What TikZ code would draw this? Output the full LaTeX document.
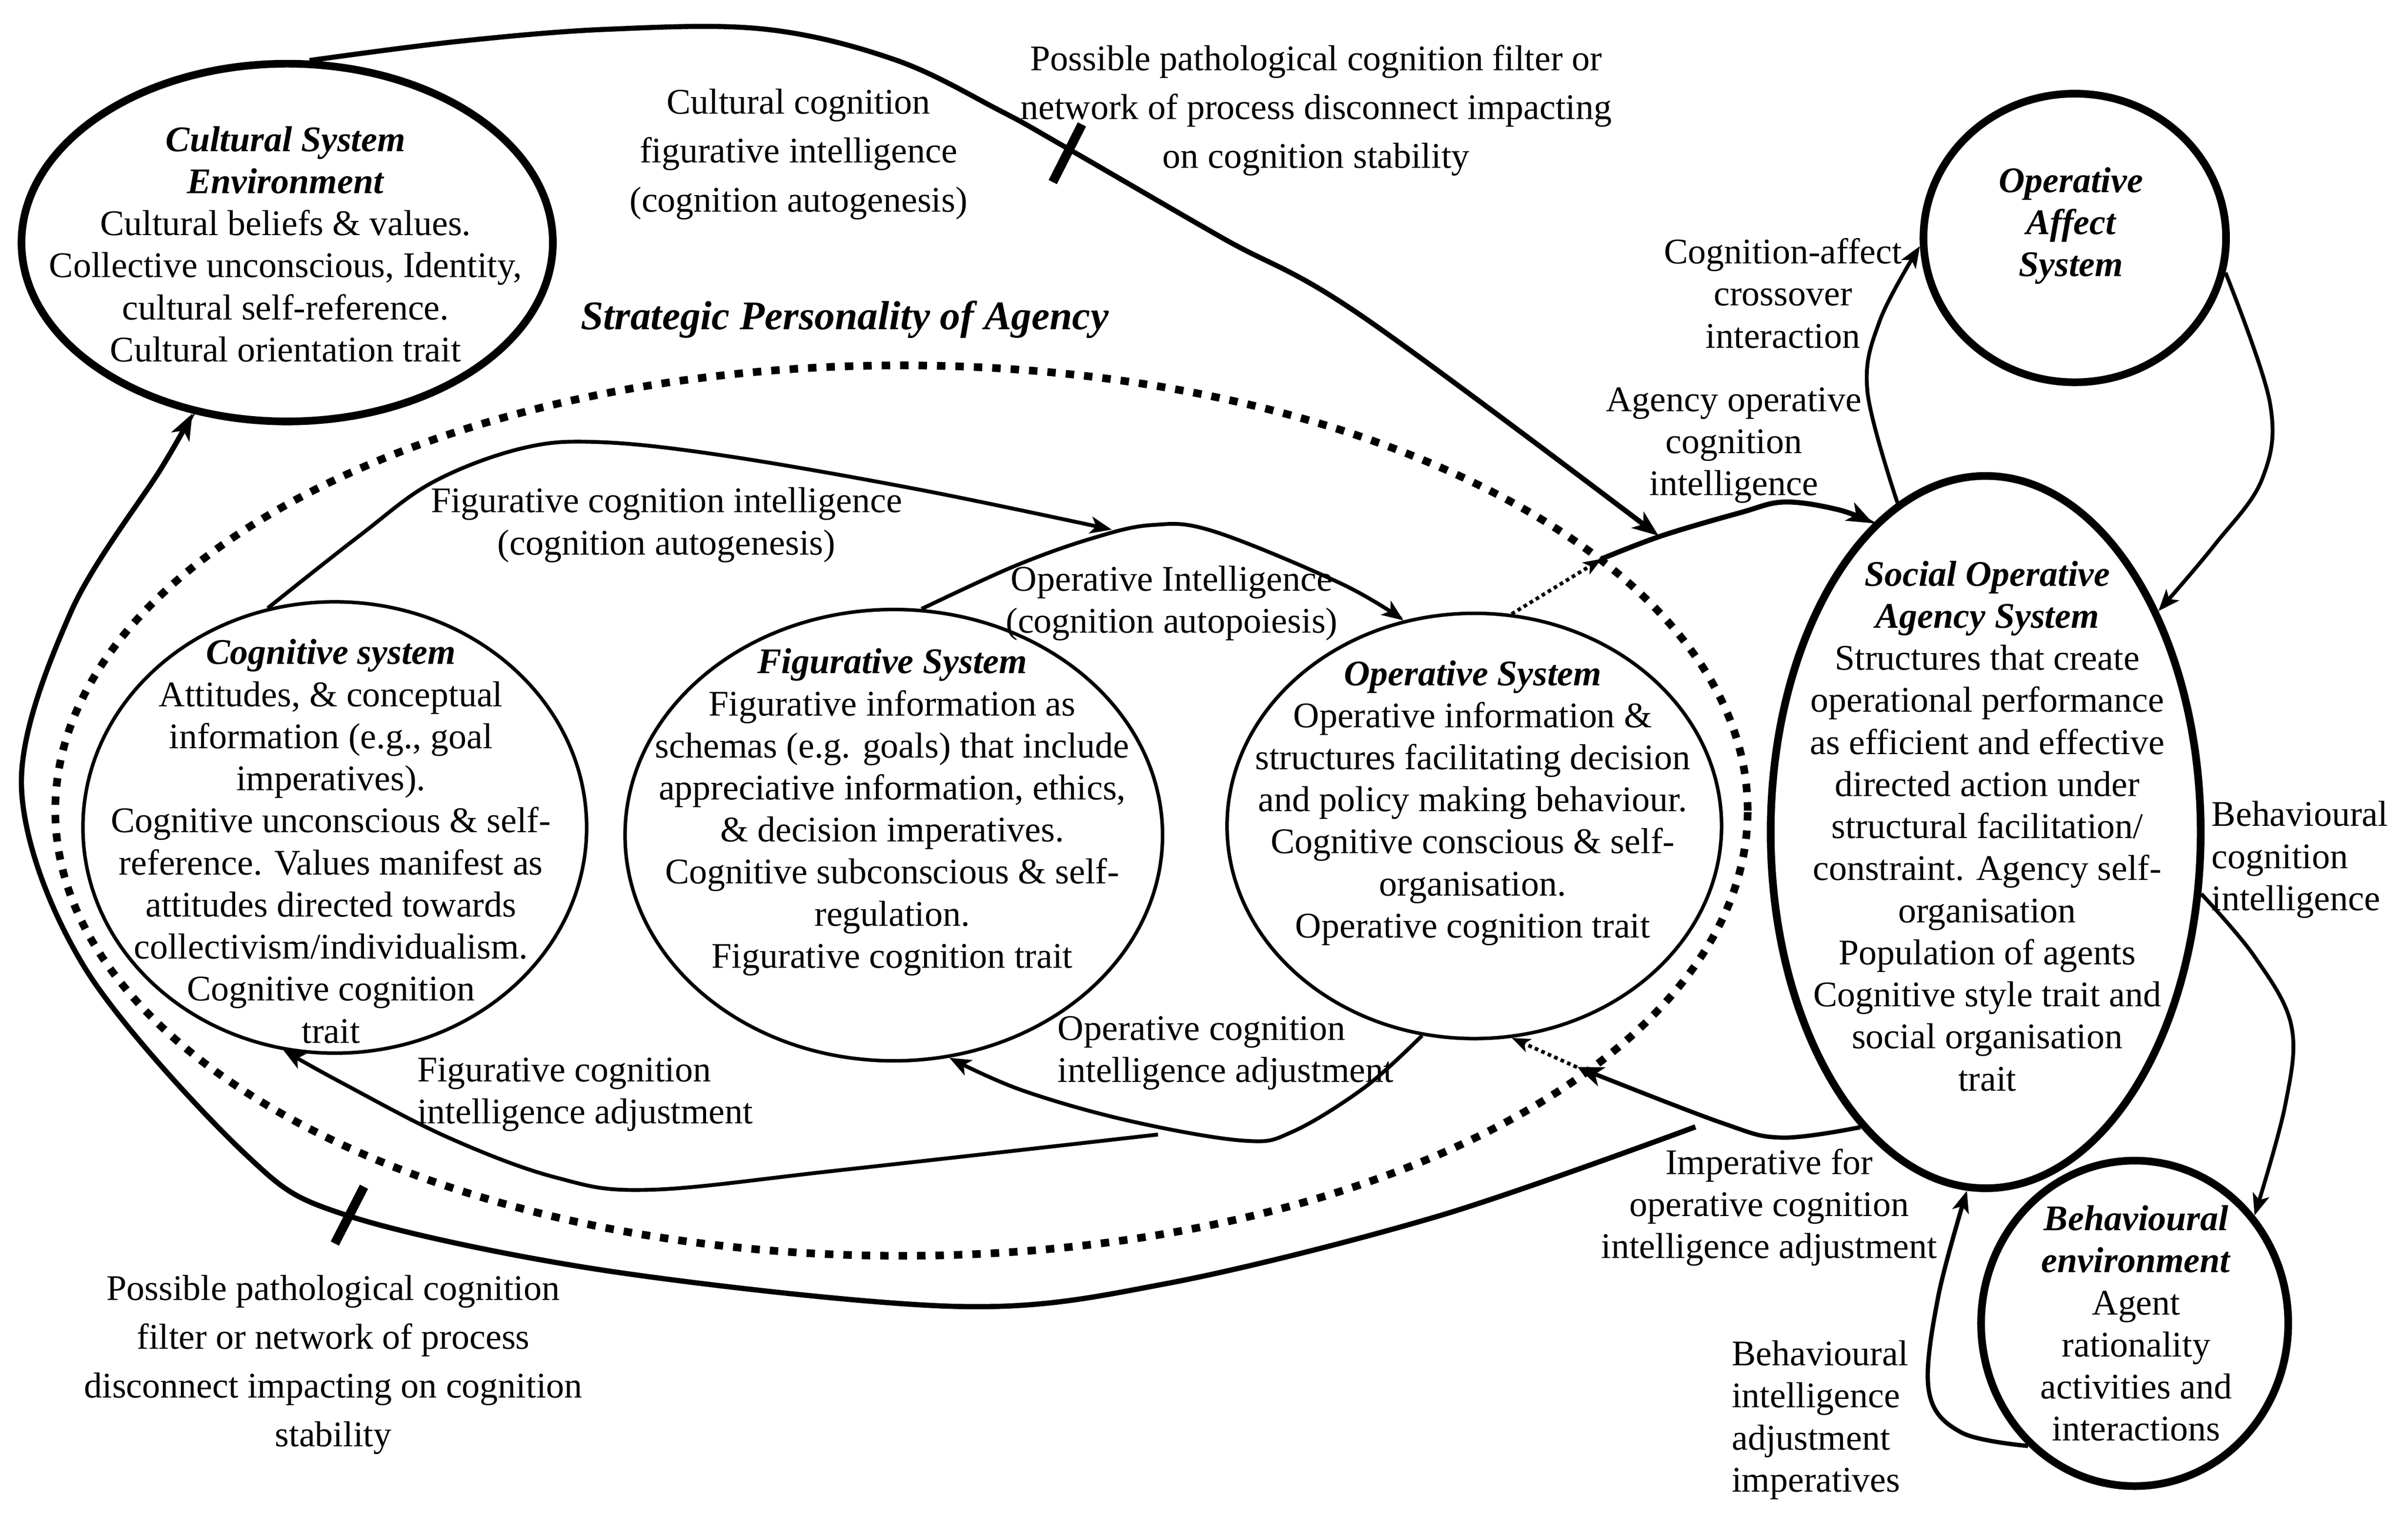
\documentclass[tikz,border=0pt]{standalone}
\usepackage{fontspec}
\setmainfont{Liberation Serif}
\usetikzlibrary{arrows.meta,shapes.geometric}
\begin{document}
\begin{tikzpicture}[x=1pt,y=-1pt,
  every node/.style={font=\fontsize{23.5}{27.4}\selectfont, inner sep=0pt, align=center},
  wide/.style={font=\fontsize{23.5}{31.8}\selectfont},
  thickell/.style={draw, ellipse, line width=5pt, inner sep=0pt},
  thinell/.style={draw, ellipse, line width=2.3pt, inner sep=0pt},
  spaell/.style={draw, ellipse, line width=5pt, dash pattern=on 5.5pt off 6.5pt, inner sep=0pt},
  conn/.style={line width=2.5pt, -{Stealth[length=14pt,width=11pt,inset=3.5pt]}},
  heavy/.style={line width=3.3pt, -{Stealth[length=17pt,width=13pt,inset=4.5pt]}},
  dotline/.style={line width=2.4pt, dash pattern=on 2.4pt off 2.2pt, -{Stealth[length=12pt,width=9pt,inset=3pt]}},
  barmark/.style={line width=6pt},
  bi/.style={font=\fontsize{23.5}{27.4}\selectfont\bfseries\itshape},
  bigtitle/.style={font=\fontsize{26.5}{30}\selectfont\bfseries\itshape},
]
\fill[white] (0,0) rectangle (1568,988);
\useasboundingbox (0,0) rectangle (1568,988);

% strategic personality dotted boundary
\node[spaell, minimum width=1102pt, minimum height=580pt] (spa) at (587,528) {};
\node[bigtitle] (spatitle) at (550,208) {Strategic Personality of Agency};

% systems
\node[thickell, minimum width=346pt, minimum height=233pt] (cult) at (187,158) {};
\node (culttxt) at (186,159) {\textbf{\textit{Cultural System}}\\\textbf{\textit{Environment}}\\Cultural beliefs \& values.\\Collective unconscious, Identity,\\cultural self-reference.\\Cultural orientation trait};

\node[thinell, minimum width=328pt, minimum height=294pt] (cog) at (218,539) {};
\node (cogtxt) at (215.5,548) {\textbf{\textit{Cognitive system}}\\Attitudes, \& conceptual\\information (e.g., goal\\imperatives).\\Cognitive unconscious \& self-\\reference. Values manifest as\\attitudes directed towards\\collectivism/individualism.\\Cognitive cognition\\trait};

\node[thinell, minimum width=350pt, minimum height=294pt] (fig) at (582,544) {};
\node (figtxt) at (581,529) {\textbf{\textit{Figurative System}}\\Figurative information as\\schemas (e.g. goals) that include\\appreciative information, ethics,\\\& decision imperatives.\\Cognitive subconscious \& self-\\regulation.\\Figurative cognition trait};

\node[thinell, minimum width=322pt, minimum height=277pt] (ops) at (960,538) {};
\node (opstxt) at (959,523) {\textbf{\textit{Operative System}}\\Operative information \&\\structures facilitating decision\\and policy making behaviour.\\Cognitive conscious \& self-\\organisation.\\Operative cognition trait};

\node[thickell, minimum width=197pt, minimum height=188pt] (aff) at (1351,155) {};
\node[bi] (afftxt) at (1348.5,147) {Operative\\Affect\\System};

\node[thickell, minimum width=280pt, minimum height=464pt] (soc) at (1293,542) {};
\node (soctxt) at (1294,538) {\textbf{\textit{Social Operative}}\\\textbf{\textit{Agency System}}\\Structures that create\\operational performance\\as efficient and effective\\directed action under\\structural facilitation/\\constraint. Agency self-\\organisation\\Population of agents\\Cognitive style trait and\\social organisation\\trait};

\node[thickell, minimum width=200pt, minimum height=212pt] (beh) at (1390,862) {};
\node (behtxt) at (1391,862) {\textbf{\textit{Behavioural}}\\\textbf{\textit{environment}}\\Agent\\rationality\\activities and\\interactions};

% labels
\node[wide] (lcult) at (520,100.5) {Cultural cognition\\figurative intelligence\\(cognition autogenesis)};
\node[wide] (lpath1) at (857,72) {Possible pathological cognition filter or\\network of process disconnect impacting\\on cognition stability};
\node (laffx) at (1161,191) {Cognition-affect\\crossover\\interaction};
\node (lagency) at (1129,290) {Agency operative\\cognition\\intelligence};
\node (lfigint) at (434,342) {Figurative cognition intelligence\\(cognition autogenesis)};
\node (lopint) at (763,393) {Operative Intelligence\\(cognition autopoiesis)};
\node[align=left, anchor=west] (lfigadj) at (271.5,713) {Figurative cognition\\intelligence adjustment};
\node[align=left, anchor=west] (lopadj) at (688.6,686) {Operative cognition\\intelligence adjustment};
\node (limp) at (1152,786.5) {Imperative for\\operative cognition\\intelligence adjustment};
\node[align=left, anchor=west] (lbehcog) at (1440,560) {Behavioural\\cognition\\intelligence};
\node[align=left, anchor=west] (lbehadj) at (1127.5,925) {Behavioural\\intelligence\\adjustment\\imperatives};
\node[wide] (lpath2) at (217,889) {Possible pathological cognition\\filter or network of process\\disconnect impacting on cognition\\stability};

% free junction points
\coordinate (pJoin) at (1080,349);
\coordinate (pCross) at (1043,364);
\coordinate (pImp) at (1027,695);
\coordinate (pImpDot) at (1031,697);
\coordinate (pBotStart) at (1104,734);
\coordinate (pFigAdjStart) at (754,739);
\coordinate (pFigIntEnd) at (724,345);

% cultural cognition (top curve)
\draw[heavy] plot[smooth, tension=0.6] coordinates {(cult.83) (298,27) (397,19) (498,19) (583,39) (651,72) (694,96) (796,155) (887,206) (pJoin)};
\draw[barmark] (704.5,81) -- (685.5,118.6);

% agency operative cognition intelligence
\draw[dotline] (ops.80) -- (pCross);
\draw[heavy] plot[smooth, tension=0.6] coordinates {(pCross) (1082,349) (1133,334) (1162,327) (1197,332) (soc.110)};

% cognition-affect crossover
\draw[conn] plot[smooth, tension=0.6] coordinates {(soc.105) (1216,255) (1224,209) (aff.183)};
% affect -> social
\draw[conn] plot[smooth, tension=0.6] coordinates {(aff.-13) (1478,262) (1473,312) (1442,355) (soc.52)};
% behavioural cognition intelligence
\draw[conn] plot[smooth, tension=0.6] coordinates {(soc.-16) (1468,623) (1492,668) (1488,720) (beh.42)};
% behavioural intelligence adjustment imperatives
\draw[conn, line width=2.8pt] plot[smooth, tension=0.6] coordinates {(beh.-131) (1277,933) (1256,906) (1262,845) (soc.-93)};

% imperative for operative cognition intelligence adjustment
\draw[heavy, line width=2.8pt] plot[smooth, tension=0.6] coordinates {(soc.-113) (1160,741) (1120,731) (pImp)};
\draw[dotline] (pImpDot) -- (ops.-80);

% bottom big return curve to cultural system
\draw[heavy, line width=3.4pt] plot[smooth, tension=0.55] coordinates {(pBotStart) (937,792) (760,836) (624,851) (397,828) (227,792) (159,751) (55,630) (14,513) (46,399) (105,305) (cult.-119)};
\draw[barmark] (237,773) -- (218,810);

% figurative cognition intelligence adjustment
\draw[conn] plot[smooth, tension=0.6] coordinates {(pFigAdjStart) (549,762) (423,775) (362,767) (292,741) (222,705) (cog.-103)};
% operative cognition intelligence adjustment
\draw[conn] plot[smooth, tension=0.6] coordinates {(ops.-104) (889,708) (842,737) (810,743) (735,730) (665,710) (fig.-76)};
% figurative cognition intelligence (autogenesis)
\draw[conn] plot[smooth, tension=0.6] coordinates {(cog.107) (234,349) (282,314) (340,292) (391,288) (473,297) (599,319) (pFigIntEnd)};
% operative intelligence (autopoiesis)
\draw[conn] plot[smooth, tension=0.6] coordinates {(fig.83) (660,369) (710,351) (750,342) (790,346) (873,380) (ops.109)};
\end{tikzpicture}
\end{document}
